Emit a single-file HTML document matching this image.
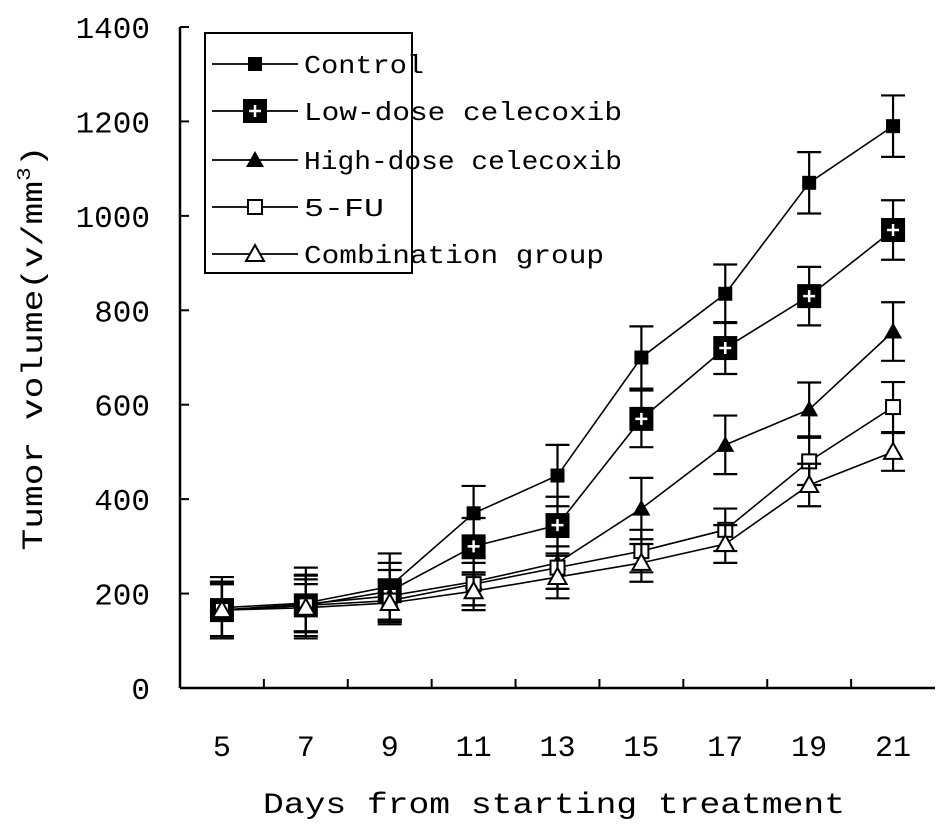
<!DOCTYPE html>
<html><head><meta charset="utf-8"><style>
html,body{margin:0;padding:0;background:#fff;}
svg{display:block;}
text{font-family:"Liberation Mono","DejaVu Sans Mono",monospace;fill:#000;}
</style></head><body>
<svg id="chart" width="945" height="827" viewBox="0 0 945 827" xmlns="http://www.w3.org/2000/svg">
<g id="axes"></g>
<g id="series"></g>
<g id="legend"></g>
</svg>
<script>
const categories = ["5","7","9","11","13","15","17","19","21"];
const yTicks = [0,200,400,600,800,1000,1200,1400];
const seriesNames = ["Control","Low-dose celecoxib","High-dose celecoxib","5-FU","Combination group"];
const controlVals = [170,180,215,370,450,700,835,1070,1190];
const controlErr  = [65,75,70,58,65,66,62,65,65];
const lowVals = [165,175,205,300,345,570,720,830,970];
const lowErr  = [60,65,60,60,60,60,55,62,63];
const highVals = [165,178,195,225,265,380,515,590,755];
const highErr  = [60,60,55,50,55,65,62,57,62];
const fuVals = [165,175,185,220,255,290,335,480,595];
const fuErr  = [55,55,45,45,45,45,45,50,53];
const comboVals = [165,170,180,205,235,265,305,430,500];
const comboErr  = [55,50,45,40,45,40,40,45,40];

const NS="http://www.w3.org/2000/svg";
const X0=180,X1=935,Y0=688,Y1=27,YMAX=1400;
const step=(X1-X0)/categories.length;
const xs=i=>X0+step*(i+0.5);
const ys=v=>Y0-(v/YMAX)*(Y0-Y1);
function mk(tag,attrs,parent){const e=document.createElementNS(NS,tag);for(const k in attrs)e.setAttribute(k,attrs[k]);parent.appendChild(e);return e;}
const axes=document.getElementById('axes');
let e=mk('line',{x1:X0,y1:Y1,x2:X0,y2:Y0,stroke:'#000','stroke-width':2.5},axes);


e=mk('line',{x1:X0,y1:Y0,x2:X1,y2:Y0,stroke:'#000','stroke-width':2.5},axes);


yTicks.forEach(t=>{
  const y=ys(t);
  let l=mk('line',{x1:X0,y1:y,x2:X0+9,y2:y,stroke:'#000','stroke-width':2},axes);
  
  
  let tx=mk('text',{x:150,y:y+11,'text-anchor':'end','font-size':31},axes);
  tx.textContent=t;
  
  
});
for(let i=1;i<categories.length;i++){
  const x=X0+step*i;
  let l=mk('line',{x1:x,y1:Y0,x2:x,y2:Y0-9,stroke:'#000','stroke-width':2},axes);
  
  
}
categories.forEach((c,i)=>{
  let tx=mk('text',{x:xs(i),y:756,'text-anchor':'middle','font-size':30},axes);
  tx.textContent=c;
  
  
});
let xt=mk('text',{x:554,y:813,'text-anchor':'middle','font-size':30,textLength:582,lengthAdjust:'spacingAndGlyphs'},axes);
xt.textContent='Days from starting treatment';


let yt=mk('text',{x:0,y:0,'text-anchor':'middle','font-size':30,transform:'translate(42,348) rotate(-90)',textLength:405,lengthAdjust:'spacingAndGlyphs'},axes);
yt.innerHTML='Tumor volume(v/mm<tspan font-size="19" dy="-12">3</tspan><tspan dy="12">)</tspan>';



function marker(kind,x,y,g){
  if(kind===0){mk('rect',{x:x-7,y:y-7,width:14,height:14,fill:'#000'},g);}
  else if(kind===1){mk('rect',{x:x-12,y:y-12,width:24,height:24,fill:'#000'},g);
    mk('path',{d:`M${x-6},${y}H${x+6}M${x},${y-6}V${y+6}`,stroke:'#fff','stroke-width':2.5},g);}
  else if(kind===2){mk('path',{d:`M${x},${y-9}L${x+9},${y+7}L${x-9},${y+7}Z`,fill:'#000'},g);}
  else if(kind===3){mk('rect',{x:x-7,y:y-7,width:14,height:14,fill:'#fff',stroke:'#000','stroke-width':2},g);}
  else {mk('path',{d:`M${x},${y-9}L${x+9},${y+7}L${x-9},${y+7}Z`,fill:'#fff',stroke:'#000','stroke-width':2},g);}
}
const allVals=[controlVals,lowVals,highVals,fuVals,comboVals];
const allErr=[controlErr,lowErr,highErr,fuErr,comboErr];
const keys=['control','low-dose','high-dose','5-fu','combination'];
const sg=document.getElementById('series');
allVals.forEach((vals,s)=>{
  const g=mk('g',{},sg);
  
  
  let line=mk('polyline',{points:vals.map((v,i)=>xs(i)+','+ys(v)).join(' '),fill:'none',stroke:'#000','stroke-width':1.6},g);
  
  
  vals.forEach((v,i)=>{
    const x=xs(i),er=allErr[s][i];
    const eb=mk('path',{d:`M${x},${ys(v+er)}V${ys(v-er)}M${x-12},${ys(v+er)}H${x+12}M${x-12},${ys(v-er)}H${x+12}`,stroke:'#000','stroke-width':2.2,fill:'none'},g);
    
    
  });
  vals.forEach((v,i)=>{
    const mg=mk('g',{},g);
    
    
    marker(s,xs(i),ys(v),mg);
  });
});
const lg=document.getElementById('legend');
let box=mk('rect',{x:205,y:33,width:207,height:240,fill:'#fff',stroke:'#000','stroke-width':2},lg);


const ly=[64,111,160,207,254];
const lw=[120,318,318,80,300];
seriesNames.forEach((n,s)=>{
  const g=mk('g',{},lg);
  
  
  mk('line',{x1:212,y1:ly[s],x2:298,y2:ly[s],stroke:'#000','stroke-width':1.8},g);
  marker(s,255,ly[s],g);
  const t=mk('text',{x:304,y:ly[s]+9,'font-size':26,textLength:lw[s],lengthAdjust:'spacingAndGlyphs'},g);
  t.textContent=n;
});
</script>
</body></html>
